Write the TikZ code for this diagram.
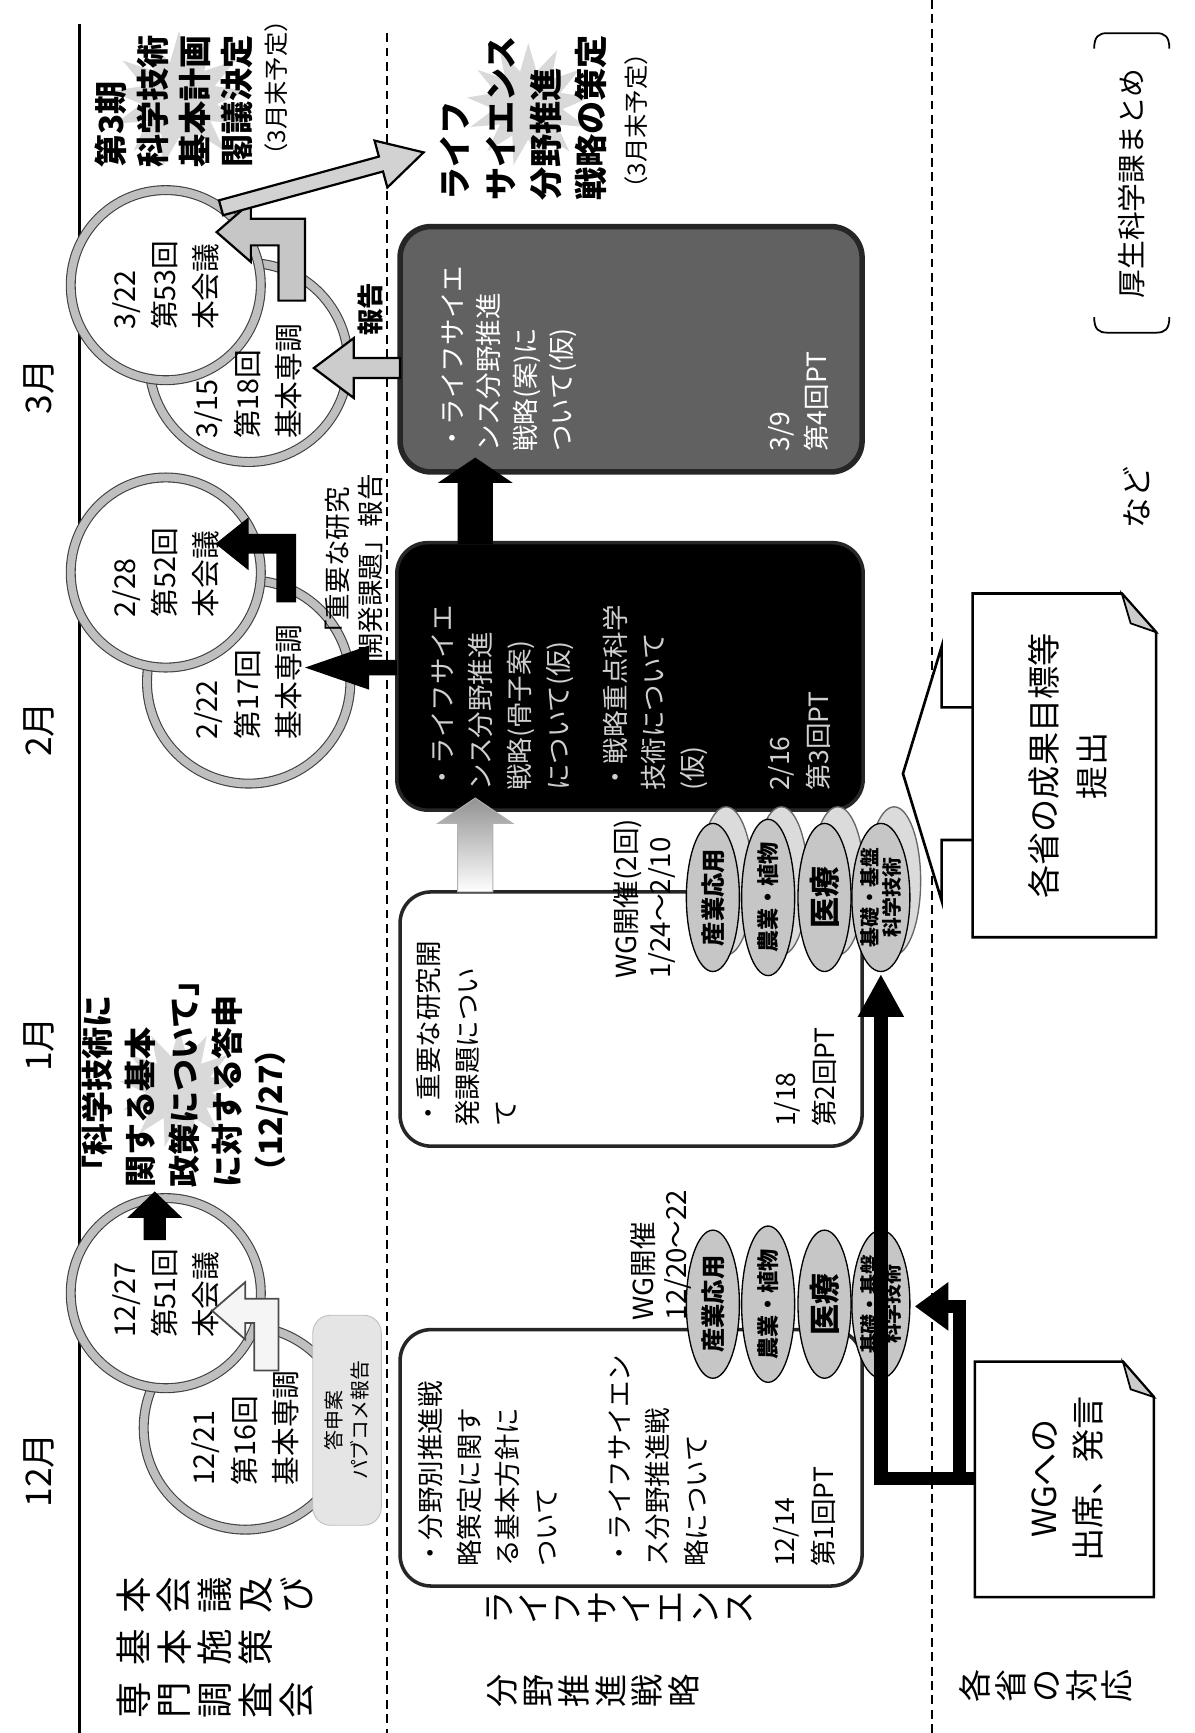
\documentclass[tikz,border=0pt]{standalone}
\usepackage{fontspec}
\setmainfont{Noto Sans CJK JP}
\usetikzlibrary{shapes.geometric}
\newcommand{\fsz}[2]{\fontsize{#1}{#2}\selectfont}
\begin{document}
\begin{tikzpicture}[x=0.5pt,y=-0.5pt, line join=miter,
  rt/.style={rotate=90, inner sep=0pt, align=left},
  rtc/.style={rotate=90, inner sep=0pt, align=center},
  ring/.style={circle, draw=black!75, double=gray!50, double distance=3.5pt, line width=0.5pt, fill=white, inner sep=0pt},
  pbox/.style={draw=black!85, line width=1.6pt, rounded corners=14pt, inner sep=0pt},
  wg/.style={ellipse, draw=black, line width=0.6pt, fill=gray!45, rotate=90, inner sep=0pt, minimum width=67pt, minimum height=24pt, font=\fsz{10}{11}},
  wgg/.style={wg, fill=gray!28, draw=black!60},
  burst/.style={star, star points=13, star point ratio=1.8, fill=gray!30, inner sep=0pt},
  doc/.style={draw=black, line width=1.2pt, fill=white},
  ptxt/.style={rt, font=\fsz{12}{17.5}},
  circtxt/.style={rt, font=\fsz{13}{18.5}},
  divider/.style={line width=0.9pt, dash pattern=on 4pt off 2.5pt},
]
\useasboundingbox (0,0) rectangle (1081,1568);
\fill[white] (0,0) rectangle (1081,1568);

% dividers
\draw[line width=1.2pt] (72,22) -- (72,1568);
\draw[divider] (350,30) -- (350,1568);
\draw[divider] (843,0) -- (843,1568);

% month labels
\node[rt, font=\fsz{16}{18}] (m12) at (35,1330) {12月};
\node[rt, font=\fsz{16}{18}] (m1) at (35,945) {1月};
\node[rt, font=\fsz{16}{18}] (m2) at (35,660) {2月};
\node[rt, font=\fsz{16}{18}] (m3) at (35,350) {3月};

% row labels (vertical writing)
\node[rtc, font=\fsz{16.5}{18.5}, anchor=north] (lab1) at (105,1443) {本\\会\\議\\及\\び};
\node[rtc, font=\fsz{16.5}{18.5}, anchor=north] (lab2) at (105,1490) {基\\本\\施\\策};
\node[rtc, font=\fsz{16.5}{18.5}, anchor=north] (lab3) at (105,1538) {専\\門\\調\\査\\会};
\node[rtc, font=\fsz{15}{15.5}, anchor=north] (lab4) at (440,1455) {ラ\\イ\\フ\\サ\\イ\\エ\\ン\\ス};
\node[rtc, font=\fsz{15}{16.5}, anchor=north] (lab5) at (440,1530) {分\\野\\推\\進\\戦\\略};
\node[rtc, font=\fsz{15}{16}, anchor=north] (lab6) at (868,1525) {各\\省\\の\\対\\応};

% starbursts
\node[burst, minimum size=54pt] (b1) at (162,985) {};
\node[burst, minimum size=62pt] (b2) at (162,90) {};
\node[burst, minimum size=56pt] (b3) at (478,95) {};

% circles
\node[ring, minimum size=92pt] (c1221) at (222,1292) {};
\node[ring, minimum size=86pt] (c1227) at (150,1170) {};
\node[ring, minimum size=92pt] (c222) at (225,617) {};
\node[ring, minimum size=86pt] (c228) at (150,518) {};
\node[ring, minimum size=90pt] (c315) at (225,328) {};
\node[ring, minimum size=86pt] (c322) at (150,258) {};

% public comment box
\node[draw=gray!50, fill=gray!20, rounded corners=8pt, minimum width=95pt, minimum height=31pt, rotate=90, inner sep=0pt] (pub) at (314,1285) {};
\node[rtc, font=\fsz{9}{11.5}] (pubt) at (pub) {答申案\\パブコメ報告};

% circle texts
\node[circtxt] (t1221) at (c1221) {12/21\\第16回\\基本専調};
\node[circtxt] (t1227) at (c1227) {12/27\\第51回\\本会議};
\node[circtxt] (t222) at (c222) {2/22\\第17回\\基本専調};
\node[circtxt] (t228) at (c228) {2/28\\第52回\\本会議};
\node[circtxt] (t315) at (225,345) {3/15\\第18回\\基本専調};
\node[circtxt] (t322) at (c322) {3/22\\第53回\\本会議};

% arrows in row 1
\draw[fill=gray!8, draw=black!70, line width=0.8pt] (230,1240) -- (230,1197) -- (222,1197) -- (222,1212) -- (192,1186) -- (222,1160) -- (222,1175) -- (252,1175) -- (252,1240) -- cycle;
\fill (130,1122) -- (130,1102) -- (115,1102) -- (140,1078) -- (165,1102) -- (150,1102) -- (150,1122) -- cycle;
\fill (250,545) -- (250,501) -- (225,501) -- (225,516) -- (195,492) -- (225,468) -- (225,483) -- (268,483) -- (268,545) -- cycle;
\draw[fill=gray!45, line width=1pt] (252,272) -- (252,222) -- (227,222) -- (227,237) -- (196,210) -- (227,183) -- (227,198) -- (276,198) -- (276,272) -- cycle;
\begin{scope}[shift={(200,188)}, rotate=15.3]
\draw[fill=gray!35, line width=1pt] (0,-7) -- (150,-7) -- (150,-22) -- (190,0) -- (150,22) -- (150,7) -- (0,7) -- cycle;
\end{scope}

% texts in row 1
\node[rt, font=\bfseries\fsz{14.5}{19.5}, anchor=north west] (ans) at (74,1075) {「科学技術に\\関する基本\\政策について」\\に対する答申\\（12/27）};
\node[rt, font=\bfseries\fsz{15}{19}, anchor=north west] (kihon) at (85,152) {第3期\\科学技術\\基本計画\\閣議決定};
\node[rt, font=\fsz{11}{13}, anchor=west] (kihon2) at (250,152) {（3月末予定）};
\node[rt, font=\bfseries\fsz{15}{20.5}, anchor=north west] (lsst) at (398,182) {ライフ\\サイエンス\\分野推進\\戦略の策定};
\node[rt, font=\fsz{11}{13}, anchor=west] (lsst2) at (576,182) {（3月末予定）};
\node[rtc, font=\fsz{12}{15}] (jr) at (320,513) {「重要な研究\\開発課題」報告};
\node[rt, font=\bfseries\fsz{12}{14}] (hk) at (335,280) {報告};

% PT boxes
\node[pbox, fill=white, minimum width=209pt, minimum height=116pt] (pt1) at (571,1319) {};
\node[pbox, fill=white, minimum width=209pt, minimum height=115pt] (pt2) at (571,922) {};
\node[pbox, fill=black, minimum width=211pt, minimum height=121pt] (pt3) at (570,612) {};
\node[pbox, fill=black!62, line width=2.5pt, minimum width=209pt, minimum height=111pt] (pt4) at (571,316) {};

% arrows between boxes
\fill (359,597) -- (334,597) -- (334,584) -- (276,604) -- (334,624) -- (334,611) -- (359,611) -- cycle;
\draw[fill=gray!40, line width=1pt] (362,324) -- (320,324) -- (320,306) -- (284,333) -- (320,360) -- (320,342) -- (362,342) -- cycle;
\shadedraw[top color=gray!85, bottom color=white, draw=gray!60] (414,807) -- (414,745) -- (396,745) -- (430,722) -- (464,745) -- (446,745) -- (446,807) -- cycle;
\fill (414,492) -- (414,437) -- (396,437) -- (430,414) -- (464,437) -- (446,437) -- (446,492) -- cycle;

% PT box texts
\node[ptxt, anchor=north west] (p1a) at (378,1418) {・分野別推進戦\\略策定に関す\\る基本方針に\\ついて};
\node[ptxt, anchor=north west] (p1b) at (550,1418) {・ライフサイエン\\ス分野推進戦\\略について};
\node[ptxt, anchor=south west] (p1c) at (756,1418) {12/14\\第1回PT};
\node[ptxt, anchor=north west] (p2a) at (376,1020) {・重要な研究開\\発課題につい\\て};
\node[ptxt, anchor=south west] (p2c) at (757,1020) {1/18\\第2回PT};
\node[ptxt, text=gray!38, anchor=north west] (p3a) at (390,716) {・ライフサイエ\\ンス分野推進\\戦略(骨子案)\\について(仮)};
\node[ptxt, text=gray!38, anchor=north west] (p3b) at (545,716) {・戦略重点科学\\技術について\\(仮)};
\node[ptxt, text=gray!38, anchor=south west] (p3c) at (752,716) {2/16\\第3回PT};
\node[rt, font=\fsz{12}{16.5}, text=white, anchor=north west] (p4a) at (399,409) {・ライフサイエ\\ンス分野推進\\戦略(案)に\\ついて(仮)};
\node[rt, font=\fsz{12}{16.5}, text=white, anchor=south west] (p4c) at (750,409) {3/9\\第4回PT};

% WG ellipses, second round (with ghosts)
\node[wgg] (g2a) at (657,797) {};
\node[wgg] (g2b) at (707,797) {};
\node[wgg] (g2c) at (758,797) {};
\node[wgg] (g2d) at (809,797) {};
\node[wg, font=\bfseries\fsz{11}{12}] (w2a) at (645,812) {産業応用};
\node[wg, font=\bfseries\fsz{10}{11}] (w2b) at (695,812) {農業・植物};
\node[wg, font=\bfseries\fsz{14}{15}] (w2c) at (746,812) {医療};
\node[wg, font=\bfseries\fsz{9}{10}, align=center] (w2d) at (797,812) {基礎・基盤\\科学技術};
% WG ellipses, first round
\node[wg, font=\bfseries\fsz{11}{12}] (w1a) at (645,1180) {産業応用};
\node[wg, font=\bfseries\fsz{10}{11}] (w1b) at (695,1180) {農業・植物};
\node[wg, font=\bfseries\fsz{14}{15}] (w1c) at (746,1180) {医療};
\node[wg, font=\bfseries\fsz{9}{10}, align=center] (w1d) at (797,1180) {基礎・基盤\\科学技術};

\node[rt, font=\fsz{12.5}{15}, anchor=north west] (wgl1) at (570,1195) {WG開催\\12/20～22};
\node[rt, font=\fsz{12.5}{15}, anchor=north west] (wgl2) at (555,886) {WG開催(2回)\\1/24～2/10};

% ministries: hollow arrow and documents
\draw[fill=white, line width=1.2pt] (880,640) -- (852,640) -- (852,585) -- (817,700) -- (852,815) -- (852,760) -- (880,760);
\draw[doc] (880,537) -- (1015,537) -- (1046,572) -- (1046,848) -- (880,848) -- cycle;
\draw[fill=gray!40, line width=0.8pt] (1015,537) -- (1023,564) -- (1046,572) -- cycle;
\node[rtc, font=\fsz{15}{22}] (seika) at (966,693) {各省の成果目標等\\提出};

\draw[line width=6pt] (882,1338) -- (797,1338) -- (797,918);
\fill (776,920) -- (797,882) -- (818,920) -- cycle;
\draw[line width=6pt] (868,1341) -- (868,1182) -- (856,1182);
\fill (858,1160) -- (828,1182) -- (858,1204) -- cycle;
\draw[doc] (882,1232) -- (1016,1232) -- (1044,1264) -- (1044,1445) -- (882,1445) -- cycle;
\draw[fill=gray!40, line width=0.8pt] (1016,1232) -- (1023,1257) -- (1044,1264) -- cycle;
\node[rtc, font=\fsz{15}{20}] (wgt) at (966,1338) {WGへの\\出席、発言};

% notes
\node[rt, font=\fsz{14}{15}] (nado) at (1028,450) {など};
\draw[line width=0.8pt] (990,44) .. controls (990,33) and (994,30) .. (1002,30) -- (1046,30) .. controls (1054,30) and (1058,33) .. (1058,44);
\draw[line width=0.8pt] (990,287) .. controls (990,298) and (994,301) .. (1002,301) -- (1046,301) .. controls (1054,301) and (1058,298) .. (1058,287);
\node[rt, font=\fsz{13}{15}] (kosei) at (1024,166) {厚生科学課まとめ};
\end{tikzpicture}
\end{document}
